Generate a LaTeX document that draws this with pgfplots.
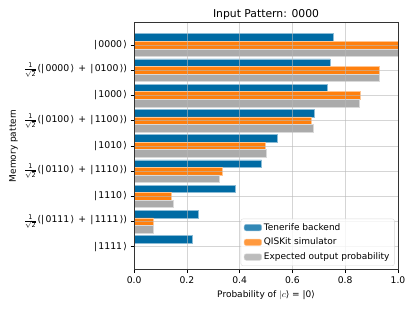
\documentclass[border=0pt]{standalone}
\usepackage{pgfplots}
\pgfplotsset{compat=1.18}
\usepackage{amsmath}
\usepackage{fontspec}
\setmainfont{DejaVu Sans}
\definecolor{cblue}{HTML}{006BA4}
\definecolor{corange}{HTML}{FF800E}
\definecolor{cgray}{HTML}{ABABAB}
\newcommand{\ket}[1]{|\kern1.3bp#1\kern1.3bp⟩}
\newcommand{\fr}{\ensuremath{\tfrac{\text{1}}{\sqrt{\text{2}}}}\kern0.5bp}
\begin{document}
\begin{tikzpicture}
\begin{axis}[
  scale only axis, width=263.7bp, height=247bp,
  at={(0,0)}, anchor=south west,
  xbar, bar width=0.3,
  xmin=0, xmax=1, ymin=-0.9, ymax=8.9, y dir=reverse,
  ytick={0,1,2,3,4,5,6,7,8},
  yticklabels={
    \ket{0000},
    \fr(\ket{0000}\hspace{1.2bp} + \hspace{1.2bp}\ket{0100}),
    \ket{1000},
    \fr(\ket{0100}\hspace{1.2bp} + \hspace{1.2bp}\ket{1100}),
    \ket{1010},
    \fr(\ket{0110}\hspace{1.2bp} + \hspace{1.2bp}\ket{1110}),
    \ket{1110},
    \fr(\ket{0111}\hspace{1.2bp} + \hspace{1.2bp}\ket{1111}),
    \ket{1111}},
  yticklabel style={font=\fontsize{9.3bp}{11bp}\selectfont},
  xtick={0,0.2,0.4,0.6,0.8,1},
  xticklabel style={font=\fontsize{9.2bp}{10bp}\selectfont,
    /pgf/number format/.cd,fixed,fixed zerofill,precision=1},
  /pgf/number format/assume math mode=true,
  grid=major, grid style={color=gray!55, line width=0.7bp, opacity=0.6},
  axis on top,
  tick align=outside, xtick pos=bottom, ytick pos=left, major tick length=3.5bp,
  tick style={black, line width=0.6bp},
  axis line style={line width=0.8bp, black!80},
  title={Input Pattern: 0000},
  title style={font=\fontsize{10.8bp}{12bp}\selectfont, yshift=-7bp},
  xlabel={Probability of \ensuremath{|c}⟩ = |0⟩},
  ylabel={Memory pattern},
  label style={font=\fontsize{9bp}{10bp}\selectfont},
  ylabel style={at={(axis description cs:-0.457,0.5)}, anchor=center},
  legend style={at={(0.987,0.0145)}, anchor=south east,
    font=\fontsize{9bp}{10bp}\selectfont, draw=gray!30, fill=white,
    fill opacity=0.8, text opacity=1, rounded corners=2bp,
    row sep=2.4bp, inner xsep=3bp, inner ysep=2.5bp, cells={anchor=west}},
  legend image code/.code={\fill[#1] (0bp,-3.2bp) rectangle (17.4bp,3.2bp);},
]
\addplot[fill=cblue, draw=cblue!45!white, line width=0.5bp, bar shift=-0.3] coordinates {
  (0.755,0) (0.743,1) (0.731,2) (0.684,3) (0.544,4) (0.483,5) (0.383,6) (0.243,7) (0.221,8)};
\addlegendentry{Tenerife backend}
\addplot[fill=corange, draw=corange!45!white, line width=0.5bp, bar shift=0] coordinates {
  (1.0,0) (0.928,1) (0.857,2) (0.670,3) (0.496,4) (0.333,5) (0.139,6) (0.073,7)};
\addlegendentry{QISKit simulator}
\addplot[fill=cgray, draw=cgray!45!white, line width=0.5bp, bar shift=0.3] coordinates {
  (1.0,0) (0.928,1) (0.855,2) (0.678,3) (0.5,4) (0.324,5) (0.147,6) (0.073,7)};
\addlegendentry{Expected output probability}
\end{axis}
\pgfresetboundingbox
\path (-134bp,-41.7bp) rectangle (280.7bp,269.3bp);
\end{tikzpicture}
\end{document}
